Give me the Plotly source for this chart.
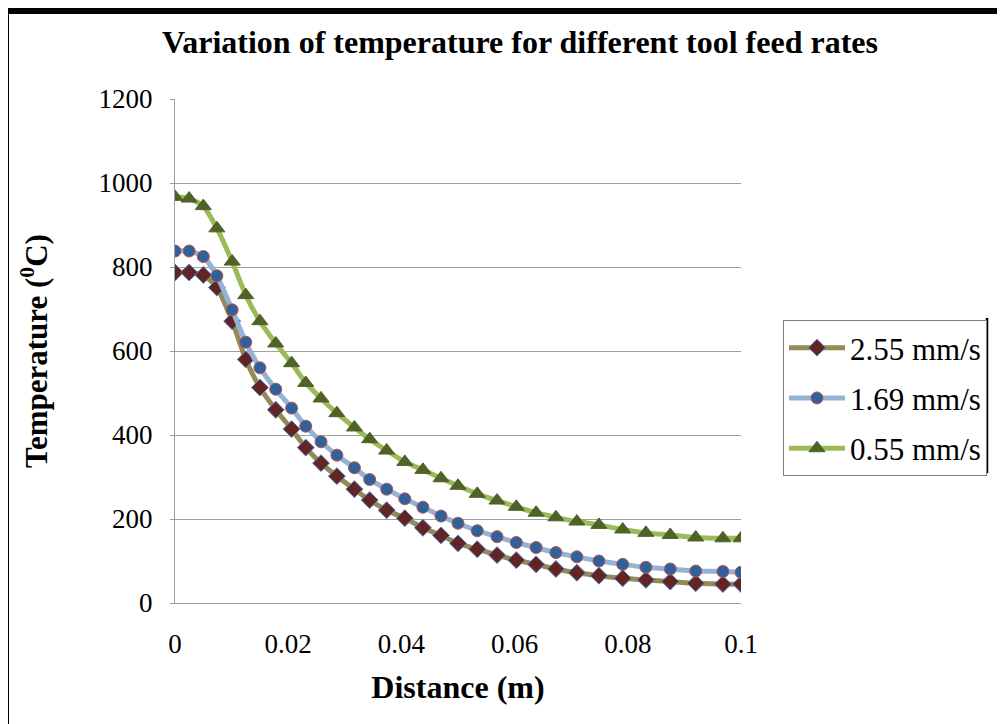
import plotly.graph_objects as go

# Distance (m) — non-uniform node positions
distance = [0.0, 0.0025, 0.0050, 0.0074, 0.0101, 0.0125, 0.0150, 0.0178,
            0.0206, 0.0231, 0.0258, 0.0286, 0.0317, 0.0344, 0.0374, 0.0406,
            0.0438, 0.0470, 0.0500, 0.0534, 0.0569, 0.0603, 0.0638, 0.0673,
            0.0710, 0.0749, 0.0791, 0.0832, 0.0875, 0.0920, 0.0968, 0.1000]

temp_255 = [787, 787, 781, 751, 671, 580, 513, 460, 414, 370, 333, 302, 271,
            245, 221, 202, 179, 161, 142, 128, 114, 102, 92, 81, 72, 65, 59,
            55, 51, 47, 45, 45]

temp_169 = [838, 838, 825, 779, 698, 621, 560, 509, 464, 421, 384, 352, 322,
            294, 271, 248, 228, 207, 190, 172, 158, 144, 132, 120, 110, 100,
            92, 85, 81, 76, 75, 73]

temp_055 = [967, 963, 945, 892, 813, 733, 671, 618, 571, 524, 487, 452, 418,
            390, 363, 336, 317, 297, 279, 260, 244, 229, 215, 204, 194, 186,
            175, 167, 162, 156, 154, 154]

series_names = ["2.55 mm/s", "1.69 mm/s", "0.55 mm/s"]
x_ticks = [0, 0.02, 0.04, 0.06, 0.08, 0.1]
x_tick_text = ["0", "0.02", "0.04", "0.06", "0.08", "0.1"]
y_ticks = [0, 200, 400, 600, 800, 1000, 1200]

SERIF = "Liberation Serif, Times New Roman, serif"

fig = go.Figure()

styles = [
    dict(line_color="#948A54", marker=dict(symbol="diamond", size=13, color="#632523",
                                           line=dict(color="#4F81BD", width=1))),
    dict(line_color="#95B3D7", marker=dict(symbol="circle", size=12, color="#2F629B",
                                           line=dict(color="#C0504D", width=1))),
    dict(line_color="#9BBB59", marker=dict(symbol="triangle-up", size=14, color="#4F6228",
                                           line=dict(color="#4F6228", width=1))),
]

for name, ys, st in zip(series_names, [temp_255, temp_169, temp_055], styles):
    fig.add_trace(go.Scatter(
        x=distance, y=ys, name=name, mode="lines+markers",
        line=dict(color=st["line_color"], width=5, shape="spline", smoothing=0.6),
        marker=st["marker"], legendgroup=name,
    ))

# The page body has an 8px margin: build the figure 8px smaller and shift coordinates
OFF = 8
W, H = 1005 - OFF, 724 - OFF
L, R, T, B = 175 - OFF, 1005 - 741, 99 - OFF, 724 - 603
pw, ph = W - L - R, H - T - B

def px_x(p):  # reference pixel -> paper x
    return (p - OFF - L) / pw

def px_y(p):  # reference pixel -> paper y
    return (H - B - (p - OFF)) / ph

fig.update_layout(
    width=W, height=H, autosize=False,
    margin=dict(l=L, r=R, t=T, b=B, pad=0),
    paper_bgcolor="white", plot_bgcolor="white",
    font=dict(family=SERIF, color="black"),
    title=dict(text="<b>Variation of temperature for different tool feed rates</b>",
               x=(520 - OFF) / W, xanchor="center", y=1 - (42 - OFF) / H, yanchor="middle",
               font=dict(size=32, family=SERIF, color="black")),
    showlegend=True,
    legend=dict(x=px_x(783), y=px_y(320), xanchor="left", yanchor="top",
                bordercolor="#808080", borderwidth=1, bgcolor="white",
                font=dict(size=31, family=SERIF, color="black"),
                tracegroupgap=7, itemwidth=56),
    xaxis=dict(range=[0, 0.1], tickvals=x_ticks, ticktext=x_tick_text,
               showgrid=False, zeroline=False, showline=True, linecolor="#A0A0A0",
               linewidth=1, ticks="", tickfont=dict(size=27, family=SERIF, color="black"),
               ticklabelstandoff=17,
               title=dict(text="<b>Distance (m)</b>", font=dict(size=32, family=SERIF, color="black"),
                          standoff=17)),
    yaxis=dict(range=[0, 1200], tickvals=y_ticks, showgrid=True, gridcolor="#A0A0A0",
               gridwidth=1, zeroline=False, showline=True, linecolor="#A0A0A0", linewidth=1,
               ticks="outside", ticklen=4, tickcolor="#A0A0A0",
               tickfont=dict(size=27, family=SERIF, color="black"), ticklabelstandoff=12,
               title=dict(text="<b>Temperature (<sup>0</sup>C)</b>",
                          font=dict(size=31, family=SERIF, color="black"), standoff=41)),
)

# Black frame (left and top) and the dark line on the right of the legend
fig.add_shape(type="rect", xref="paper", yref="paper",
              x0=px_x(OFF), x1=px_x(9), y0=px_y(724), y1=px_y(OFF),
              fillcolor="black", line=dict(width=0), layer="above")
fig.add_shape(type="rect", xref="paper", yref="paper",
              x0=px_x(OFF), x1=px_x(1005), y0=px_y(OFF + 6), y1=px_y(OFF),
              fillcolor="black", line=dict(width=0), layer="above")
fig.add_shape(type="line", xref="paper", yref="paper",
              x0=px_x(987), x1=px_x(987), y0=px_y(318), y1=px_y(473),
              line=dict(color="black", width=2.5), layer="above")

fig.write_html("out.html")
